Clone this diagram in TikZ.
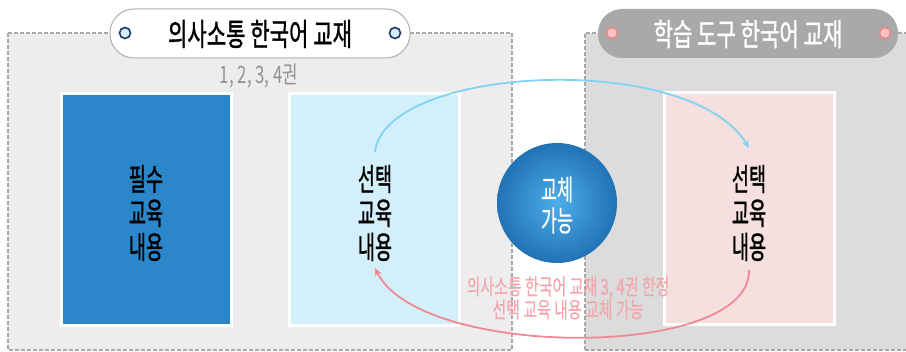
\documentclass[tikz,border=0pt]{standalone}
\usepackage{fontspec}
\setmainfont{Noto Sans CJK KR}
\newfontfamily\krmed[FakeBold=1.3]{Noto Sans CJK KR}
\newfontfamily\krlt[FakeBold=0.6]{Noto Sans CJK KR}
\usetikzlibrary{arrows.meta}
\definecolor{panelL}{HTML}{EDEDED}
\definecolor{panelR}{HTML}{DCDCDC}
\definecolor{dashgray}{HTML}{A8A8A8}
\definecolor{boxblue}{HTML}{2C87CA}
\definecolor{boxcyan}{HTML}{D3F0FA}
\definecolor{boxpink}{HTML}{F5DFDF}
\definecolor{pillgray}{HTML}{A9A9A9}
\definecolor{arrblue}{HTML}{80D4F2}
\definecolor{arrpink}{HTML}{F08A92}
\definecolor{txtpink}{HTML}{F4A6AC}
\definecolor{dotblue}{HTML}{D4EEFA}
\definecolor{dotnavy}{HTML}{1E3A5F}
\definecolor{dotpink}{HTML}{F9C4C4}
\definecolor{dotrose}{HTML}{E88A8A}
\definecolor{ballin}{HTML}{4CAEEA}
\definecolor{ballout}{HTML}{2272B6}
\tikzset{
  panel/.style={draw=dashgray, dash pattern=on 4pt off 2pt, line width=1.4pt},
  cbox/.style={draw=white, line width=3pt},
  pill/.style={rounded corners=24pt, line width=1pt},
  dotL/.style={circle, minimum size=11pt, inner sep=0pt, fill=dotblue, draw=dotnavy, line width=1.6pt},
  dotR/.style={circle, minimum size=11pt, inner sep=0pt, fill=dotpink, draw=dotrose, line width=1.6pt},
  boxtext/.style={align=center, font=\krmed\fontsize{31}{34}\selectfont, text=black, inner sep=0pt},
  link/.style={line width=1.8pt, -{Stealth[length=8pt,width=7pt]}}
}
\newcommand{\nar}[1]{\scalebox{0.6}[1]{#1}}
\begin{document}
\begin{tikzpicture}[x=1pt,y=-1pt]
\useasboundingbox (0,0) rectangle (906,352);
% panels
\fill[panelL] (8,33) rectangle (512,350);
\fill[panelR] (585,33) rectangle (912,350);
\draw[panel] (8,33) rectangle (512,350);
\draw[panel] (585,350) -- (585,33) -- (912,33);
\draw[panel] (585,350) -- (912,350);
% content boxes
\node[cbox, fill=boxblue, minimum width=170pt, minimum height=232pt, inner sep=0pt] (req) at (146,210) {};
\node[cbox, fill=boxcyan, minimum width=170pt, minimum height=232pt, inner sep=0pt] (selL) at (374,210) {};
\node[cbox, fill=boxpink, minimum width=170pt, minimum height=232pt, inner sep=0pt] (selR) at (749,209) {};
\node[boxtext] (reqT) at (146,213) {\nar{필수}\\\nar{교육}\\\nar{내용}};
\node[boxtext] (selLT) at (375,213) {\nar{선택}\\\nar{교육}\\\nar{내용}};
\node[boxtext] (selRT) at (749,213) {\nar{선택}\\\nar{교육}\\\nar{내용}};
% ball
\node[circle, minimum size=120pt, inner sep=0pt, shading=radial, inner color=ballin, outer color=ballout] (ball) at (557,203) {};
\node[align=center, text=white, inner sep=0pt, font=\krlt\fontsize{29}{31}\selectfont] (ballT) at (557,205) {\nar{교체}\\\nar{가능}};
% titles
\draw[pill, draw=dashgray!90, fill=white] (110,9) rectangle (410,58);
\node[dotL] (dl1) at (125,33) {};
\node[dotL] (dl2) at (395,33) {};
\node[inner sep=0pt, font=\krmed\fontsize{31}{32}\selectfont] (titleL) at (260,34) {\scalebox{0.68}[1]{의사소통 한국어 교재}};
\node[inner sep=0pt, text=gray!85, font=\fontsize{24}{26}\selectfont] (sub) at (259,76) {\scalebox{0.7}[1]{1, 2, 3, 4권}};
\fill[pillgray, rounded corners=24pt] (598,9) rectangle (898,58);
\node[dotR] (dr1) at (612,33) {};
\node[dotR] (dr2) at (885,33) {};
\node[inner sep=0pt, text=white, font=\krmed\fontsize{31}{32}\selectfont] (titleR) at (748,34) {\scalebox{0.68}[1]{학습 도구 한국어 교재}};
% arrows
\coordinate (a1) at (375,152);
\coordinate (a2) at (749,148);
\coordinate (b1) at (749,270);
\coordinate (b2) at (375,268);
\draw[link, draw=arrblue] (a1) .. controls (385,65) and (690,50) .. (a2);
\draw[link, draw=arrpink] (b1) .. controls (752,360) and (420,360) .. (b2);
\node[align=center, text=txtpink, inner sep=0pt, font=\krlt\fontsize{22}{23}\selectfont] (note) at (568,298) {\scalebox{0.68}[1]{의사소통 한국어 교재 3, 4권 한정}\\\scalebox{0.68}[1]{선택 교육 내용 교체 가능}};
\end{tikzpicture}
\end{document}
